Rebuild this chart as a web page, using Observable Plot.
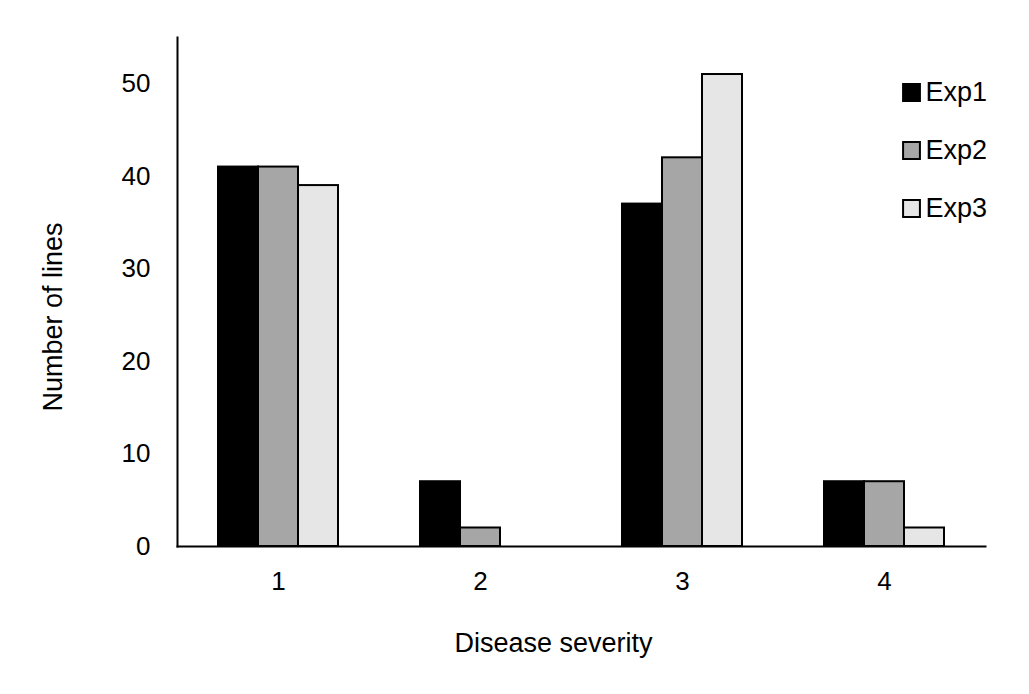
<!DOCTYPE html>
<html>
<head>
<meta charset="utf-8">
<script src="https://cdn.jsdelivr.net/npm/d3@7"></script>
<script src="https://cdn.jsdelivr.net/npm/@observablehq/plot@0.6"></script>
<style>
  html, body { margin: 0; padding: 0; background: white; }
</style>
</head>
<body>
<div id="chart"></div>
<script>
const severity = ["1", "2", "3", "4"];
const series = ["Exp1", "Exp2", "Exp3"];
const exp1 = [41, 7, 37, 7];
const exp2 = [41, 2, 42, 7];
const exp3 = [39, 0, 51, 2];
const yTicks = [0, 10, 20, 30, 40, 50];
const colors = ["#000000", "#a6a6a6", "#e6e6e6"];

const values = [exp1, exp2, exp3];
const data = severity.flatMap((s, i) =>
  series.map((e, j) => ({ severity: s, exp: e, value: values[j][i] }))
);

const legend = series.flatMap((s, i) => [
  Plot.dot([s], {
    facet: "super", frameAnchor: "top-right", symbol: "square", r: 9.5,
    fill: colors[i], stroke: "black", strokeWidth: 2,
    dx: -74, dy: 55 + 58 * i
  }),
  Plot.text([s], {
    facet: "super", frameAnchor: "top-right", text: d => d, textAnchor: "start", lineAnchor: "middle",
    fontSize: 27, fill: "black", dx: -60, dy: 55 + 58 * i
  })
]);

const chart = Plot.plot({
  width: 1029,
  height: 694,
  marginTop: 37,
  marginBottom: 148,
  marginLeft: 176,
  marginRight: 44,
  style: { fontFamily: "'Liberation Sans', Arial, sans-serif", fontSize: "26px", background: "white", color: "black" },
  fx: { domain: severity, padding: 0, axis: "bottom", tickSize: 0, tickPadding: 25, label: null },
  x: { domain: series, paddingInner: 0, paddingOuter: 1, axis: null },
  y: { domain: [0, 55], ticks: yTicks, tickSize: 0, tickPadding: 27, label: null },
  color: { domain: series, range: colors },
  marks: [
    Plot.barY(data, { fx: "severity", x: "exp", y: "value", fill: "exp", stroke: "black", strokeWidth: 2 }),
    Plot.frame({ anchor: "bottom", facet: "super", stroke: "black", strokeWidth: 2 }),
    Plot.frame({ anchor: "left", facet: "super", stroke: "black", strokeWidth: 2 }),
    ...legend,
    Plot.text(["Disease severity"], { facet: "super", frameAnchor: "bottom", text: d => d, textAnchor: "middle", lineAnchor: "middle", dy: 97, dx: -28, fontSize: 27, fill: "black" }),
    Plot.text(["Number of lines"], { facet: "super", frameAnchor: "left", text: d => d, textAnchor: "middle", lineAnchor: "middle", rotate: -90, dx: -124, dy: 25, fontSize: 27, fill: "black" })
  ]
});
document.getElementById("chart").appendChild(chart);
</script>
</body>
</html>
